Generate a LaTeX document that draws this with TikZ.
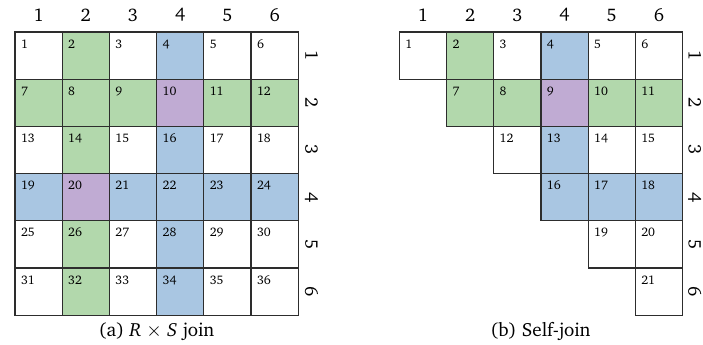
\documentclass[tikz,border=0pt]{standalone}
\usepackage[T1]{fontenc}
\usepackage{charter}
\usepackage{tikz}

\definecolor{cellgreen}{RGB}{178,216,172}
\definecolor{cellblue}{RGB}{169,198,226}
\definecolor{cellpurple}{RGB}{192,171,211}
\definecolor{gridline}{RGB}{45,45,45}

\begin{document}
\begin{tikzpicture}
[x=1cm,y=-1cm,
 cellline/.style={draw=gridline,line width=0.75pt},
 cellnum/.style={anchor=base west,inner sep=0pt,font=\fontsize{7.5}{9}\selectfont},
 axisnum/.style={inner sep=0pt,font=\fontsize{11}{13}\selectfont},
 caption/.style={inner sep=0pt,font=\fontsize{11.5}{14}\selectfont}]

\useasboundingbox (0,0) rectangle (14.894,7.309);

% pick the fill: green for row/col 2, blue for row/col 4, purple where both meet
\newcommand{\pickfill}[2]{%
  \pgfmathtruncatemacro\isg{or(#1==2,#2==2)}%
  \pgfmathtruncatemacro\isb{or(#1==4,#2==4)}%
  \pgfmathtruncatemacro\kind{\isg+2*\isb}%
  \edef\fillc{\ifcase\kind white\or cellgreen\or cellblue\or cellpurple\fi}}

% full grid, R x S join
\def\xa{0.318}
\def\ya{0.678}
\foreach \r in {1,...,6}
  \foreach \c in {1,...,6} {
    \pickfill{\r}{\c}
    \fill[\fillc] (\xa+\c-1,\ya+\r-1) rectangle (\xa+\c,\ya+\r);
  }
\foreach \r in {1,...,6}
  \foreach \c in {1,...,6} {
    \pgfmathtruncatemacro\n{(\r-1)*6+\c}
    \draw[cellline] (\xa+\c-1,\ya+\r-1) rectangle (\xa+\c,\ya+\r);
    \node[cellnum] (a-\r-\c) at (\xa+\c-1+0.12,\ya+\r-1+0.34) {\n};
  }
\foreach \i in {1,...,6} {
  \node[axisnum] (acol-\i) at (\xa+\i-0.5,0.318) {\i};
  \node[axisnum,rotate=-90] (arow-\i) at (6.60,\ya+\i-0.5) {\i};
}
\node[caption] (capa) at (3.316,7.03) {(a) \textit{R} $\times$ \textit{S} join};

% upper triangle, self-join
\def\xb{8.46}
\foreach \r in {1,...,6}
  \foreach \c in {\r,...,6} {
    \pickfill{\r}{\c}
    \fill[\fillc] (\xb+\c-1,\ya+\r-1) rectangle (\xb+\c,\ya+\r);
  }
\foreach \r in {1,...,6}
  \foreach \c in {\r,...,6} {
    \pgfmathtruncatemacro\n{(\r-1)*(14-\r)/2+\c-\r+1}
    \draw[cellline] (\xb+\c-1,\ya+\r-1) rectangle (\xb+\c,\ya+\r);
    \node[cellnum] (b-\r-\c) at (\xb+\c-1+0.12,\ya+\r-1+0.34) {\n};
  }
\foreach \i in {1,...,6} {
  \node[axisnum] (bcol-\i) at (\xb+\i-0.5,0.318) {\i};
  \node[axisnum,rotate=-90] (brow-\i) at (14.72,\ya+\i-0.5) {\i};
}
\node[caption] (capb) at (11.45,7.03) {(b) Self-join};

\end{tikzpicture}
\end{document}
